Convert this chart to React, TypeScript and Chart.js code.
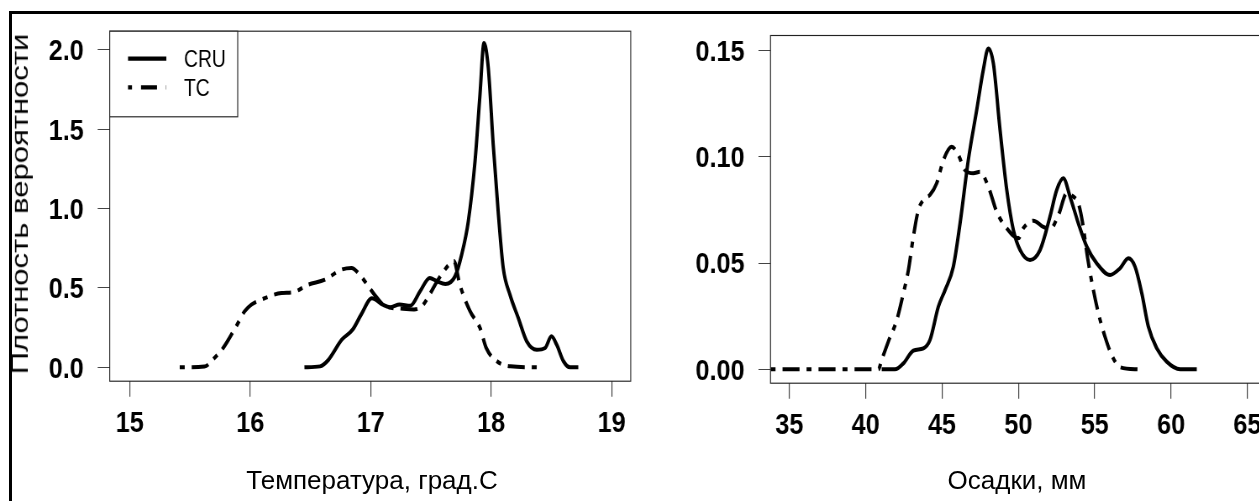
import React, { useEffect, useRef } from "react";
import { Chart, registerables } from "chart.js";

Chart.register(...registerables);

// ---------- Temperature panel ----------
const tempTicksX = [15, 16, 17, 18, 19];
const tempTicksY = [0, 0.5, 1.0, 1.5, 2.0];
const tempCruX = [16.45, 16.58, 16.65, 16.76, 16.85, 16.92, 17.01, 17.1, 17.16, 17.24, 17.33, 17.41, 17.49, 17.55, 17.62, 17.7, 17.755, 17.81, 17.866, 17.907, 17.94, 17.976, 18.017, 18.06, 18.1, 18.156, 18.225, 18.295, 18.378, 18.447, 18.5, 18.544, 18.6, 18.654, 18.723];
const tempCruY = [0, 0.006, 0.048, 0.174, 0.237, 0.331, 0.435, 0.395, 0.378, 0.395, 0.388, 0.479, 0.563, 0.542, 0.525, 0.573, 0.71, 0.92, 1.298, 1.718, 2.043, 1.886, 1.403, 0.962, 0.626, 0.457, 0.311, 0.164, 0.111, 0.122, 0.195, 0.142, 0.038, 0, 0];
const tempTcX = [15.415, 15.62, 15.705, 15.774, 15.885, 15.954, 16.01, 16.09, 16.26, 16.355, 16.48, 16.62, 16.756, 16.84, 16.92, 16.99, 17.05, 17.12, 17.25, 17.36, 17.43, 17.49, 17.55, 17.645, 17.69, 17.74, 17.825, 17.907, 17.96, 18.045, 18.16, 18.38];
const tempTcY = [0, 0.005, 0.06, 0.12, 0.26, 0.353, 0.395, 0.426, 0.468, 0.473, 0.52, 0.552, 0.615, 0.626, 0.573, 0.5, 0.44, 0.385, 0.37, 0.365, 0.39, 0.46, 0.54, 0.643, 0.67, 0.52, 0.353, 0.248, 0.12, 0.04, 0.006, 0];

// ---------- Precipitation panel ----------
const precTicksX = [35, 40, 45, 50, 55, 60, 65];
const precTicksY = [0, 0.05, 0.1, 0.15];
const precCruX = [41.05, 41.92, 42.47, 43.12, 43.78, 44.21, 44.76, 45.2, 45.74, 46.18, 46.72, 47.27, 47.7, 48.03, 48.36, 48.8, 49.24, 49.67, 50.11, 50.76, 51.42, 52.07, 52.51, 52.94, 53.38, 53.93, 54.48, 55.13, 56.0, 56.66, 57.2, 57.64, 58.08, 58.51, 59.06, 59.71, 60.59, 61.68];
const precCruY = [0, 0, 0.0028, 0.0088, 0.0099, 0.0138, 0.0295, 0.0373, 0.0483, 0.0687, 0.0985, 0.122, 0.1409, 0.1511, 0.144, 0.1127, 0.0844, 0.0656, 0.0562, 0.0515, 0.0562, 0.0719, 0.0844, 0.0899, 0.0813, 0.0687, 0.0577, 0.0499, 0.0444, 0.0476, 0.0523, 0.0483, 0.0358, 0.0201, 0.0099, 0.0036, 0, 0];
const precTcX = [33.77, 40.83, 41.05, 41.48, 42.03, 42.47, 42.8, 43.12, 43.45, 43.89, 44.21, 44.65, 45.09, 45.63, 46.07, 46.5, 47.05, 47.49, 48.03, 48.58, 49.24, 50.0, 50.32, 50.98, 51.63, 52.07, 52.62, 53.17, 53.6, 53.93, 54.21, 54.52, 54.91, 55.24, 55.67, 56.11, 56.66, 57.86];
const precTcY = [0, 0, 0.0044, 0.013, 0.023, 0.0358, 0.0468, 0.0624, 0.075, 0.0805, 0.0821, 0.0876, 0.0985, 0.1048, 0.1009, 0.0938, 0.0923, 0.093, 0.086, 0.0742, 0.0664, 0.0617, 0.0664, 0.07, 0.0671, 0.0659, 0.0726, 0.0829, 0.0813, 0.0781, 0.0687, 0.053, 0.0373, 0.0264, 0.0154, 0.0067, 0.001, 0];

// ---------- Text ----------
const seriesLabels = ["CRU", "TC"];
const yTitle = "Плотность вероятности";
const tempXTitle = "Температура, град.С";
const precXTitle = "Осадки, мм";

const FONT = "'Liberation Sans', Arial, Helvetica, sans-serif";
// the original figure is horizontally condensed; each canvas is drawn wider and shown at this ratio
const SQUASH = 0.84;

const pts = (xs: number[], ys: number[]) => xs.map((x, i) => ({ x, y: ys[i] }));

const zeroPad = (sc: any) => {
  sc.paddingTop = 0;
  sc.paddingBottom = 0;
  sc.paddingLeft = 0;
  sc.paddingRight = 0;
};

const plotBox = {
  id: "plotBox",
  afterDraw(chart: any, _args: any, opts: any) {
    const { ctx, chartArea: a } = chart;
    const s = (opts && opts.sx) || 1;
    ctx.save();
    ctx.strokeStyle = "#222";
    ctx.lineWidth = 1.15;
    ctx.strokeRect(a.left, a.top + 0.5, a.right - a.left, a.bottom - a.top);
    if (opts && opts.legend) {
      const L = a.left, T = a.top;
      const bw = 128 / s, bh = 85.6;
      ctx.fillStyle = "#fff";
      ctx.fillRect(L, T + 0.5, bw, bh);
      ctx.strokeRect(L, T + 0.5, bw, bh);
      const ds = chart.data.datasets;
      const rows = [28, 56.6];
      const textRows = [29.6, 58.6];
      ds.forEach((d: any, i: number) => {
        ctx.beginPath();
        ctx.lineWidth = 4.2;
        ctx.strokeStyle = "#000";
        ctx.setLineDash(i === 1 ? [4 / s, 9 / s, 16 / s, 9 / s] : []);
        ctx.moveTo(L + 18.3 / s, T + rows[i]);
        ctx.lineTo(L + 56.6 / s, T + rows[i]);
        ctx.stroke();
        ctx.setLineDash([]);
        ctx.fillStyle = "#000";
        ctx.font = `23px ${FONT}`;
        ctx.textBaseline = "middle";
        ctx.textAlign = "left";
        ctx.fillText(d.label, L + 74.3 / s, T + textRows[i]);
      });
    }
    ctx.restore();
  },
};

type PanelProps = {
  left: number;
  width: number;
  height: number;
  area: { left: number; top: number; right: number; bottom: number };
  xMin: number;
  xMax: number;
  yMin: number;
  yMax: number;
  xTicks: number[];
  yTicks: number[];
  yDigits: number;
  cruX: number[];
  cruY: number[];
  tcX: number[];
  tcY: number[];
  legend: boolean;
};

function Panel(p: PanelProps) {
  const ref = useRef<HTMLCanvasElement | null>(null);
  const intW = Math.round(p.width / SQUASH);
  const s = p.width / intW;
  useEffect(() => {
    if (!ref.current) return;
    const a = p.area;
    const aL = a.left / s;
    const aR = a.right / s;
    const dash = [5 / s, 7 / s, 17 / s, 7 / s];
    const chart = new Chart(ref.current, {
      type: "line",
      data: {
        datasets: [
          {
            label: seriesLabels[0],
            data: pts(p.cruX, p.cruY),
            borderColor: "#000",
            borderWidth: 4,
            pointRadius: 0,
            cubicInterpolationMode: "monotone",
            fill: false,
          },
          {
            label: seriesLabels[1],
            data: pts(p.tcX, p.tcY),
            borderColor: "#000",
            borderWidth: 4,
            borderDash: dash,
            pointRadius: 0,
            cubicInterpolationMode: "monotone",
            fill: false,
          },
        ],
      },
      options: {
        responsive: false,
        animation: false,
        devicePixelRatio: 1,
        events: [],
        layout: {
          padding: { left: 0, top: a.top, right: intW - aR, bottom: 0 },
        },
        plugins: {
          legend: { display: false },
          tooltip: { enabled: false },
          plotBox: { legend: p.legend, sx: s },
        } as any,
        scales: {
          x: {
            type: "linear",
            min: p.xMin,
            max: p.xMax,
            afterBuildTicks: (sc: any) => {
              sc.ticks = p.xTicks.map((v) => ({ value: v }));
            },
            afterFit: (sc: any) => {
              sc.height = p.height - a.bottom;
              zeroPad(sc);
            },
            border: { display: false },
            grid: { drawOnChartArea: false, drawTicks: true, tickLength: 16, color: "#444", lineWidth: 1.2 },
            ticks: {
              color: "#000",
              padding: 9,
              maxRotation: 0,
              autoSkip: false,
              font: { family: FONT, size: 30, weight: "bold" },
              callback: (v: any) => String(v),
            },
          },
          y: {
            type: "linear",
            min: p.yMin,
            max: p.yMax,
            afterBuildTicks: (sc: any) => {
              sc.ticks = p.yTicks.map((v) => ({ value: v }));
            },
            afterFit: (sc: any) => {
              sc.width = aL;
              zeroPad(sc);
            },
            border: { display: false },
            grid: { drawOnChartArea: false, drawTicks: true, tickLength: 12 / s, color: "#444", lineWidth: 1 },
            ticks: {
              color: "#000",
              padding: 14 / s,
              labelOffset: 2,
              autoSkip: false,
              font: { family: FONT, size: 30, weight: "bold" },
              callback: (v: any) => Number(v).toFixed(p.yDigits),
            },
          },
        },
      },
      plugins: [plotBox],
    });
    return () => chart.destroy();
  }, []);
  return (
    <canvas
      ref={ref}
      width={intW}
      height={p.height}
      style={{ position: "absolute", left: p.left, top: 0, width: p.width, height: p.height }}
    />
  );
}

export default function App() {
  return (
    <div
      style={{
        position: "fixed",
        left: 0,
        top: 0,
        width: 1259,
        height: 501,
        overflow: "hidden",
        background: "#fff",
        fontFamily: FONT,
      }}
    >
      <div
        style={{
          position: "absolute",
          left: 9,
          top: 11,
          width: 1300,
          height: 520,
          borderLeft: "3px solid #000",
          borderTop: "3px solid #000",
        }}
      />
      <Panel
        left={0}
        width={640}
        height={501}
        area={{ left: 109.7, top: 30.7, right: 630.7, bottom: 380.7 }}
        xMin={14.834}
        xMax={19.158}
        yMin={-0.0844}
        yMax={2.121}
        xTicks={tempTicksX}
        yTicks={tempTicksY}
        yDigits={1}
        cruX={tempCruX}
        cruY={tempCruY}
        tcX={tempTcX}
        tcY={tempTcY}
        legend={true}
      />
      <Panel
        left={640}
        width={632}
        height={501}
        area={{ left: 130.5, top: 35, right: 623.5, bottom: 382.7 }}
        xMin={33.77}
        xMax={66.05}
        yMin={-0.0063}
        yMax={0.1574}
        xTicks={precTicksX}
        yTicks={precTicksY}
        yDigits={2}
        cruX={precCruX}
        cruY={precCruY}
        tcX={precTcX}
        tcY={precTcY}
        legend={false}
      />
      <div
        style={{
          position: "absolute",
          left: 20.2,
          top: 204,
          transform: "translate(-50%, -50%) rotate(-90deg) scale(1, 0.75)",
          fontSize: 31,
          lineHeight: 1,
          whiteSpace: "nowrap",
          color: "#000",
        }}
      >
        {yTitle}
      </div>
      <div
        style={{
          position: "absolute",
          left: 372,
          top: 467,
          transform: "translateX(-50%)",
          fontSize: 26,
          lineHeight: 1,
          whiteSpace: "nowrap",
          color: "#000",
        }}
      >
        {tempXTitle}
      </div>
      <div
        style={{
          position: "absolute",
          left: 1017,
          top: 467,
          transform: "translateX(-50%)",
          fontSize: 26,
          lineHeight: 1,
          whiteSpace: "nowrap",
          color: "#000",
        }}
      >
        {precXTitle}
      </div>
    </div>
  );
}
